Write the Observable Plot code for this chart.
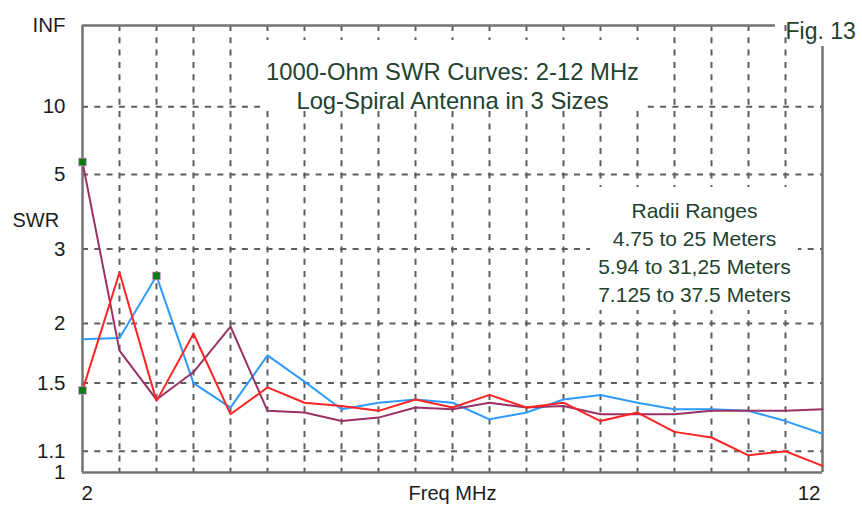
<!DOCTYPE html>
<html>
<head>
<meta charset="utf-8">
<script src="https://cdn.jsdelivr.net/npm/d3@7"></script>
<script src="https://cdn.jsdelivr.net/npm/@observablehq/plot@0.6"></script>
<style>
  body { margin: 0; background: #fff; }
</style>
</head>
<body>
<div id="chart"></div>
<script>
// Frequencies sampled every 0.5 MHz
const freqs = [2, 2.5, 3, 3.5, 4, 4.5, 5, 5.5, 6, 6.5, 7, 7.5, 8, 8.5, 9, 9.5, 10, 10.5, 11, 11.5, 12];

// 1000-ohm SWR for the three antenna sizes
const swrA = [1.85, 1.86, 2.57, 1.50, 1.34, 1.71, 1.51, 1.33, 1.37, 1.39, 1.37, 1.27, 1.31, 1.39, 1.42, 1.37, 1.33, 1.33, 1.32, 1.26, 1.19];
const swrB = [5.55, 1.75, 1.39, 1.58, 1.97, 1.32, 1.31, 1.26, 1.28, 1.34, 1.33, 1.37, 1.34, 1.35, 1.30, 1.30, 1.30, 1.32, 1.32, 1.32, 1.33];
const swrC = [1.45, 2.62, 1.38, 1.90, 1.30, 1.47, 1.37, 1.35, 1.32, 1.39, 1.34, 1.42, 1.34, 1.37, 1.26, 1.31, 1.20, 1.17, 1.08, 1.10, 1.03];

const seriesKeys   = ["A", "B", "C"];
const seriesColors = ["#2f9bff", "#993366", "#ff2424"];
const seriesValues = { A: swrA, B: swrB, C: swrC };

// Highlighted points: [series, frequency]
const markers = [["B", 2], ["C", 2], ["A", 3]];

// SWR axis labels and grid levels
const yTickValues = [1, 1.1, 1.5, 2, 3, 5, 10, Infinity];
const yTickLabels = ["1", "1.1", "1.5", "2", "3", "5", "10", "INF"];
const yGridValues = [1.1, 1.5, 2, 3, 5, 10];
const xGridValues = [2.5, 3, 3.5, 4, 4.5, 5, 5.5, 6, 6.5, 7, 7.5, 8, 8.5, 9, 9.5, 10, 10.5, 11, 11.5];
const xTickValues = [2, 12];
const xTickLabels = ["2", "12"];

const titleLines = ["1000-Ohm SWR Curves: 2-12 MHz", "Log-Spiral Antenna in 3 Sizes"];
const radiiLines = ["Radii Ranges", "4.75 to 25 Meters", "5.94 to 31,25 Meters", "7.125 to 37.5 Meters"];

// Reflection-coefficient magnitude: the SWR scale is linear in |rho|
const rho = s => (s === Infinity ? 1 : (s - 1) / (s + 1));

const rows = seriesKeys.flatMap(k => freqs.map((f, i) => ({ series: k, freq: f, swr: seriesValues[k][i] })));
const markerRows = markers.map(([k, f]) => ({ series: k, freq: f, swr: seriesValues[k][freqs.indexOf(f)] }));
const yTicks = yTickValues.map((v, i) => ({ r: rho(v), label: yTickLabels[i] }));

const axisColor = "#737373";
const gridStyle = { stroke: "#5e5e5e", strokeWidth: 2, strokeDasharray: "6,6.3" };
const textGreen = "#22422f";
const labelColor = "#1c1c1c";

const chart = Plot.plot({
  width: 862,
  height: 508,
  marginLeft: 82,
  marginRight: 40,
  marginTop: 25,
  marginBottom: 36,
  x: { domain: [2, 12], axis: null },
  y: { domain: [0, 1], axis: null },
  color: { domain: seriesKeys, range: seriesColors },
  style: { fontFamily: "'Liberation Sans', Arial, sans-serif", background: "white", overflow: "visible" },
  marks: [
    // dashed grid
    Plot.ruleY(yGridValues.map(rho), gridStyle),
    Plot.ruleX(xGridValues, gridStyle),

    // white panels behind the annotation blocks
    Plot.rect([0], { fill: "white", insetLeft: 178, insetRight: 179, insetTop: 15, insetBottom: 364 }),
    Plot.rect([0], { fill: "white", insetLeft: 508, insetRight: 24, insetTop: 162, insetBottom: 162 }),

    // axis frame
    Plot.ruleX([2], { stroke: axisColor, strokeWidth: 2.5 }),
    Plot.ruleY([0], { stroke: axisColor, strokeWidth: 2.5 }),
    Plot.ruleY([1], { stroke: axisColor, strokeWidth: 2.5, insetRight: 47 }),
    Plot.ruleX([12], { stroke: axisColor, strokeWidth: 2.5, insetTop: 21 }),

    // SWR curves
    Plot.line(rows, { x: "freq", y: d => rho(d.swr), z: "series", stroke: "series", strokeWidth: 2, strokeLinejoin: "miter" }),
    Plot.dot(markerRows, { x: "freq", y: d => rho(d.swr), symbol: "square", r: 4.4, fill: "#0a7a12", stroke: "#f08cf0", strokeOpacity: 0.55, strokeWidth: 1.2 }),

    // y tick labels
    Plot.text(yTicks, { y: "r", text: "label", frameAnchor: "left", dx: -17, textAnchor: "end", fontSize: 20.5, fill: labelColor }),
    Plot.text(["SWR"], { frameAnchor: "top-left", dx: -70, dy: 187, textAnchor: "start", fontSize: 20, fill: labelColor }),

    // x tick labels and axis title
    Plot.text([0], { x: () => xTickValues[0], text: () => xTickLabels[0], frameAnchor: "bottom", dy: 27, textAnchor: "start", dx: -1, fontSize: 20.5, fill: labelColor }),
    Plot.text([0], { x: () => xTickValues[1], text: () => xTickLabels[1], frameAnchor: "bottom", dy: 27, textAnchor: "end", dx: -2, fontSize: 20.5, fill: labelColor }),
    Plot.text(["Freq MHz"], { frameAnchor: "bottom", dy: 27, fontSize: 20, fill: labelColor }),

    // title block
    Plot.text([titleLines[0]], { frameAnchor: "top", dy: 38, fontSize: 23.8, fill: textGreen }),
    Plot.text([titleLines[1]], { frameAnchor: "top", dy: 67, fontSize: 23.8, fill: textGreen }),

    // radii legend block
    Plot.text([radiiLines.join("\n")], { frameAnchor: "top-right", dx: -128, dy: 225.5, textAnchor: "middle", lineAnchor: "middle", lineHeight: 1.34, fontSize: 21, fill: textGreen }),

    // figure number
    Plot.text(["Fig. 13"], { frameAnchor: "top-right", dx: -37, dy: -3, textAnchor: "start", fontSize: 23, fill: textGreen })
  ]
});

document.getElementById("chart").appendChild(chart);
</script>
</body>
</html>
